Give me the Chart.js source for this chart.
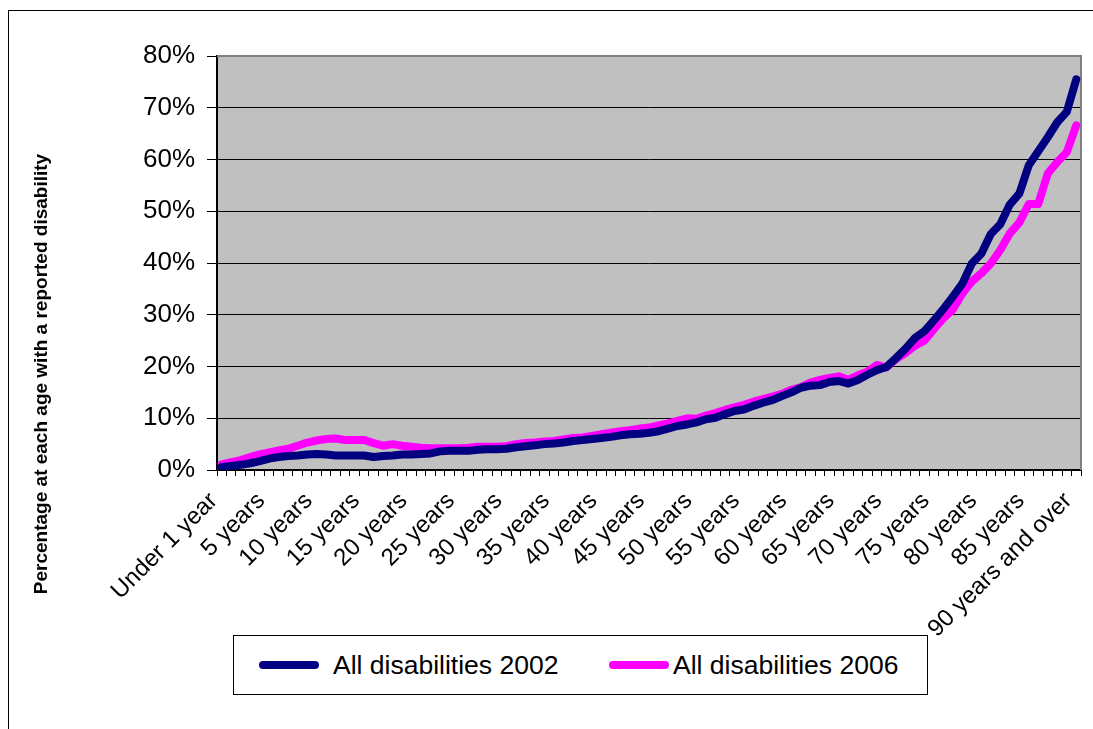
<!DOCTYPE html>
<html>
<head>
<meta charset="utf-8">
<title>Disability by age</title>
<script src="https://cdn.jsdelivr.net/npm/chart.js@4.4.1/dist/chart.umd.min.js"></script>
<style>
  html, body { margin: 0; padding: 0; background: #fff; overflow: hidden; }
  #frame { position: absolute; left: 8px; top: 10px; width: 1200px; height: 800px; border: 1px solid #000; }
  #wrap { position: absolute; left: 0; top: 0; width: 1093px; height: 729px; }
  #legend {
    position: absolute; left: 233px; top: 635px; width: 693px; height: 58px;
    border: 1px solid #000; background: #fff;
    font-family: "Liberation Sans", Arial, sans-serif; font-size: 26.5px; color: #000;
  }
  .item { position: absolute; top: 0; height: 58px; display: flex; align-items: center; white-space: nowrap; }
  .swatch { width: 60px; height: 8px; border-radius: 4px; }
</style>
</head>
<body>
<div id="frame"></div>
<div id="wrap"><canvas id="chart" width="1093" height="729"></canvas></div>
<div id="legend"></div>

<script>
// Categorias de idade: "Under 1 year", "1 year", ..., "90 years and over"
var ageLabels = ["Under 1 year"];
for (var a = 1; a < 90; a++) {
    ageLabels.push(a === 1 ? "1 year" : a + " years");
}
ageLabels.push("90 years and over");

// Percentagem com deficiência declarada, por idade (%)
var disab2002 = [
    0.6, 0.8, 1.0, 1.3, 1.7, 2.2, 2.5, 2.7, 2.8, 3.0,
    3.1, 3.0, 2.8, 2.8, 2.8, 2.8, 2.5, 2.7, 2.8, 3.0,
    3.0, 3.1, 3.2, 3.6, 3.7, 3.7, 3.7, 3.9, 4.0, 4.0,
    4.1, 4.4, 4.6, 4.8, 5.0, 5.1, 5.3, 5.6, 5.8, 6.0,
    6.2, 6.4, 6.7, 6.9, 7.0, 7.2, 7.5, 8.0, 8.5, 8.8,
    9.2, 9.8, 10.1, 10.8, 11.4, 11.7, 12.4, 13.0, 13.5, 14.3,
    15.0, 15.9, 16.3, 16.4, 17.0, 17.2, 16.7, 17.4, 18.4, 19.3,
    19.9, 21.6, 23.4, 25.5, 26.8, 28.9, 31.1, 33.5, 36.0, 39.9,
    41.8, 45.6, 47.5, 51.3, 53.4, 58.9, 61.6, 64.3, 67.2, 69.2,
    75.5
];

var disab2006 = [
    1.1, 1.5, 1.9, 2.5, 3.0, 3.4, 3.8, 4.1, 4.7, 5.3,
    5.7, 6.0, 6.1, 5.8, 5.8, 5.8, 5.2, 4.7, 5.0, 4.7,
    4.5, 4.3, 4.2, 4.2, 4.2, 4.2, 4.3, 4.5, 4.5, 4.5,
    4.6, 5.0, 5.2, 5.3, 5.5, 5.6, 5.9, 6.2, 6.3, 6.6,
    6.9, 7.2, 7.5, 7.7, 8.0, 8.2, 8.6, 9.0, 9.5, 10.0,
    9.9, 10.5, 11.0, 11.6, 12.1, 12.6, 13.2, 13.7, 14.2, 14.7,
    15.5, 16.0, 16.9, 17.4, 17.8, 18.1, 17.4, 18.3, 19.0, 20.3,
    19.8, 21.4, 22.6, 24.0, 25.0, 27.2, 29.3, 31.0, 34.1, 36.4,
    38.0, 39.9, 42.5, 45.7, 47.8, 51.4, 51.4, 57.3, 59.5, 61.4,
    66.6
];

var seriesNames = ["All disabilities 2002", "All disabilities 2006"];
var seriesColors = ["#000080", "#ff00ff"];
var yTicks = [0, 10, 20, 30, 40, 50, 60, 70, 80];
var yTitleText = "Percentage at each age with a reported disability";

var FONT = '"Liberation Sans", Arial, sans-serif';

// Fundo cinza da área do gráfico
var plotBackground = {
    id: "plotBackground",
    beforeDraw: function (chart) {
        var ctx = chart.ctx, a = chart.chartArea;
        ctx.save();
        ctx.fillStyle = "#c0c0c0";
        ctx.fillRect(a.left, a.top, a.right - a.left, a.bottom - a.top);
        ctx.restore();
    },
    beforeDatasetsDraw: function (chart) {
        var ctx = chart.ctx, a = chart.chartArea;
        ctx.save();
        ctx.strokeStyle = "#808080";
        ctx.lineWidth = 2;
        ctx.beginPath();
        ctx.moveTo(a.left, a.top);
        ctx.lineTo(a.right, a.top);
        ctx.lineTo(a.right, a.bottom);
        ctx.stroke();
        ctx.restore();
    }
};

// Título do eixo Y, centrado na altura total do gráfico
var yAxisTitle = {
    id: "yAxisTitle",
    afterDraw: function (chart) {
        var ctx = chart.ctx;
        ctx.save();
        ctx.translate(42, 374);
        ctx.rotate(-Math.PI / 2);
        ctx.font = "bold 19px " + FONT;
        ctx.fillStyle = "#000";
        ctx.textAlign = "center";
        ctx.textBaseline = "middle";
        ctx.fillText(yTitleText, 0, 0);
        ctx.restore();
    }
};

var ctx = document.getElementById("chart").getContext("2d");
var myChart = new Chart(ctx, {
    type: "line",
    data: {
        labels: ageLabels,
        datasets: [disab2002, disab2006].map(function (values, i) {
            return {
                label: seriesNames[i],
                data: values,
                borderColor: seriesColors[i],
                backgroundColor: seriesColors[i],
                borderWidth: 8,
                borderCapStyle: "round",
                borderJoinStyle: "round",
                pointRadius: 0,
                tension: 0
            };
        })
    },
    plugins: [plotBackground, yAxisTitle],
    options: {
        responsive: false,
        animation: false,
        devicePixelRatio: 1,
        layout: { padding: { top: 56, right: 12, left: 0, bottom: 0 } },
        plugins: {
            legend: { display: false },
            tooltip: { enabled: false }
        },
        scales: {
            x: {
                offset: true,
                grid: { offset: true, drawOnChartArea: false, drawTicks: true, tickLength: 6, color: "#000" },
                border: { color: "#000", width: 2 },
                ticks: {
                    autoSkip: false,
                    minRotation: 45,
                    maxRotation: 45,
                    padding: 11,
                    labelOffset: -8,
                    color: "#000",
                    font: { family: FONT, size: 24 },
                    callback: function (value, index) {
                        return index % 5 === 0 ? this.getLabelForValue(value) : "";
                    }
                },
                afterFit: function (scale) {
                    // altura fixa e sem folga lateral, a área do gráfico fica estável
                    scale.height = 259;
                    scale.paddingLeft = 0;
                    scale.paddingRight = 0;
                }
            },
            y: {
                min: yTicks[0],
                max: yTicks[yTicks.length - 1],
                afterBuildTicks: function (scale) {
                    scale.ticks = yTicks.map(function (v) { return { value: v }; });
                },
                grid: { color: "#000", lineWidth: 1, tickLength: 10 },
                border: { color: "#000", width: 2 },
                ticks: {
                    padding: 12,
                    color: "#000",
                    font: { family: FONT, size: 26 },
                    callback: function (v) { return v + "%"; }
                },
                afterFit: function (scale) {
                    scale.width = 217;
                    scale.paddingTop = 0;
                    scale.paddingBottom = 0;
                }
            }
        }
    }
});

// Legenda em HTML, montada a partir dos datasets
var legendEl = document.getElementById("legend");
var itemLeft = [25, 375];
var swatchGap = [14, 4];
myChart.data.datasets.forEach(function (ds, i) {
    var item = document.createElement("div");
    item.className = "item";
    item.style.left = itemLeft[i] + "px";
    var sw = document.createElement("span");
    sw.className = "swatch";
    sw.style.background = ds.borderColor;
    sw.style.marginRight = swatchGap[i] + "px";
    var txt = document.createElement("span");
    txt.textContent = ds.label;
    item.appendChild(sw);
    item.appendChild(txt);
    legendEl.appendChild(item);
});
</script>
</body>
</html>
